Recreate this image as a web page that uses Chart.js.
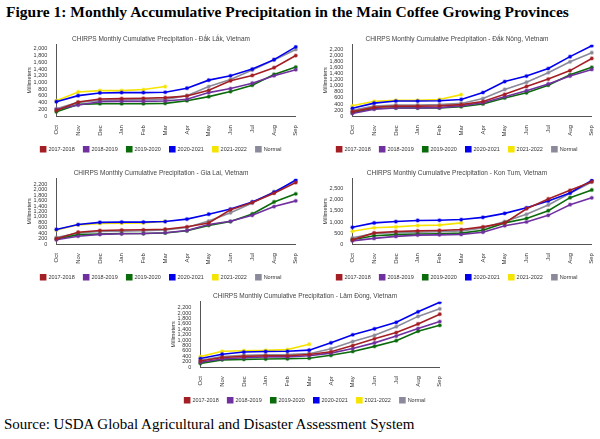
<!DOCTYPE html><html><head><meta charset="utf-8">
<script src="https://cdn.jsdelivr.net/npm/chart.js@4"></script>
<style>
body{margin:0;background:#fff;width:600px;height:439px;position:relative;overflow:hidden}
.h{position:absolute;left:6px;top:3px;font:bold 15.5px "Liberation Serif";color:#000;white-space:nowrap}
.s{position:absolute;left:4px;top:416px;font:15px "Liberation Serif";color:#000;white-space:nowrap}
.c{position:absolute}
</style></head><body>
<div class="h">Figure 1: Monthly Accumulative Precipitation in the Main Coffee Growing Provinces</div>
<div class="c" style="left:26px;top:34px;width:278px;height:128px"><canvas id="c0"></canvas></div>
<div class="c" style="left:322px;top:34px;width:278px;height:128px"><canvas id="c1"></canvas></div>
<div class="c" style="left:26px;top:168px;width:278px;height:122px"><canvas id="c2"></canvas></div>
<div class="c" style="left:322px;top:168px;width:278px;height:122px"><canvas id="c3"></canvas></div>
<div class="c" style="left:170px;top:291px;width:278px;height:122px"><canvas id="c4"></canvas></div>
<div class="s">Source: USDA Global Agricultural and Disaster Assessment System</div>
<script>
const months=["Oct","Nov","Dec","Jan","Feb","Mar","Apr","May","Jun","Jul","Aug","Sep"];
const seriesNames=["2017-2018","2018-2019","2019-2020","2020-2021","2021-2022","Normal"];
const colors=["#a31f24","#7030a0","#0a6b0a","#0000ee","#f5e400","#8a8a9a"];
const provinces=["Đắk Lắk, Vietnam","Đắk Nông, Vietnam","Gia Lai, Vietnam","Kon Tum, Vietnam","Lâm Đồng, Vietnam"];
const dakLak=[
[170,420,510,520,530,550,600,770,1050,1210,1440,1800],
[200,330,430,440,440,450,500,700,820,980,1200,1380],
[130,350,370,370,370,380,460,580,730,920,1240,1460],
[430,610,690,700,700,710,830,1070,1200,1400,1680,2060],
[460,720,760,760,790,880],
[220,410,470,480,490,500,610,880,1090,1370,1670,1980]];
const dakNong=[
[150,290,330,330,340,380,480,720,980,1220,1500,1900],
[90,230,270,270,280,340,440,640,840,1060,1320,1540],
[110,250,270,270,270,310,400,600,770,1020,1360,1610],
[260,430,500,500,510,550,780,1140,1320,1570,1960,2320],
[340,490,520,520,550,710],
[190,330,370,370,380,420,580,880,1120,1430,1790,2090]];
const giaLai=[
[200,440,500,520,530,550,640,780,1260,1530,1870,2260],
[160,290,360,380,390,420,500,720,840,1060,1380,1590],
[190,350,370,390,390,410,490,690,830,1110,1550,1850],
[540,720,800,810,810,830,920,1100,1290,1550,1900,2360],
[520,710,760,770,780,840],
[240,410,470,480,490,520,610,850,1150,1510,1930,2300]];
const konTum=[
[200,510,570,600,620,660,780,960,1600,2040,2430,2820],
[150,260,350,410,420,440,540,830,1000,1300,1780,2090],
[200,380,430,460,470,500,630,960,1160,1510,2100,2450],
[760,960,1020,1070,1080,1110,1210,1390,1640,1950,2310,2880],
[580,740,780,840,860,960],
[290,480,520,540,560,600,730,1020,1350,1770,2300,2800]];
const lamDong=[
[230,360,400,420,420,470,570,800,1050,1280,1600,1960],
[180,300,350,380,380,420,520,690,900,1150,1430,1690],
[140,270,290,300,310,330,440,580,770,980,1330,1550],
[320,480,560,580,590,630,900,1200,1420,1660,2050,2400],
[390,590,610,620,650,850],
[250,390,440,460,470,500,680,950,1180,1500,1880,2160]];
const allData=[dakLak,dakNong,giaLai,konTum,lamDong];
const yMax=[2120,2350,2400,2950,2420];
const yTop=[2000,2200,2200,2500,2200];
const ySteps=[200,200,200,500,200];
const F={size:6,family:"Liberation Sans"};
allData.forEach((d,i)=>{
 new Chart(document.getElementById("c"+i),{type:"line",
 data:{labels:months,datasets:d.map((v,k)=>({label:seriesNames[k],data:v,borderColor:colors[k],backgroundColor:colors[k],
  borderWidth:1.6,pointRadius:1.6,pointBorderWidth:1.5,pointBorderColor:colors[k]+"55",pointBackgroundColor:colors[k],tension:0}))},
 options:{responsive:true,maintainAspectRatio:false,animation:false,
  layout:{padding:{left:0,right:8,top:0,bottom:0}},
  plugins:{title:{display:true,text:"CHIRPS Monthly Cumulative Precipitation - "+provinces[i],font:{size:6.5,family:"Liberation Sans",weight:"normal"},color:"#444",padding:{top:1,bottom:2}},
   legend:{position:"bottom",labels:{boxWidth:5,boxHeight:5,font:{size:5.5,family:"Liberation Sans"},color:"#333",padding:9}}},
  scales:{x:{grid:{display:false},border:{color:"#555"},ticks:{font:F,color:"#333",maxRotation:90,minRotation:90,padding:1,autoSkip:false}},
   y:{min:0,max:yMax[i],grid:{display:false},border:{color:"#555"},
    afterBuildTicks:ax=>{const t=[];for(let v=0;v<=yTop[i];v+=ySteps[i])t.push({value:v});ax.ticks=t;},
    title:{display:true,text:"Millimeters",font:{size:5.5,family:"Liberation Sans"},color:"#333",padding:0},
    ticks:{autoSkip:false,font:{size:5.5,family:"Liberation Sans"},color:"#333",padding:1,
     callback:v=>v.toLocaleString("en-US")}}}}});
});
</script></body></html>
